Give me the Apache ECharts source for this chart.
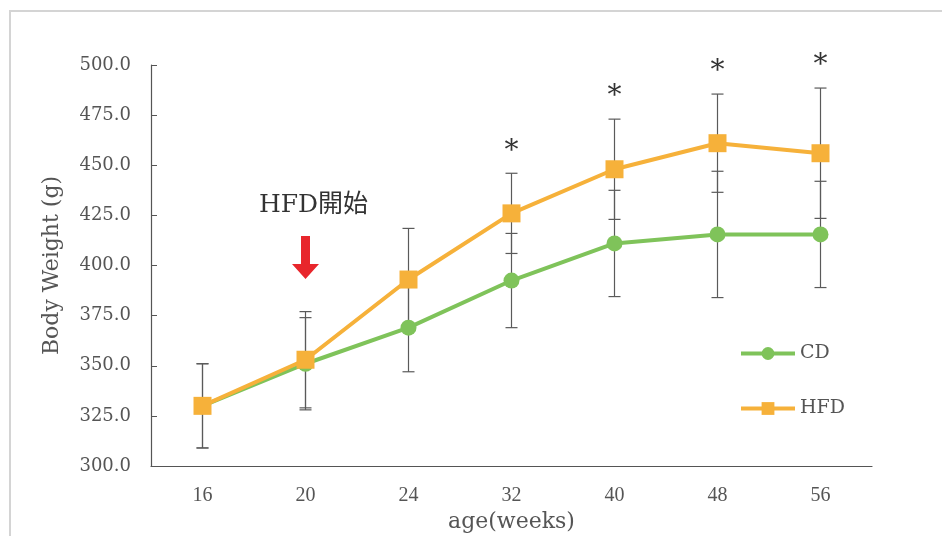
<!DOCTYPE html>
<html>
<head>
<meta charset="utf-8">
<script src="https://cdn.jsdelivr.net/npm/echarts@6/dist/echarts.min.js"></script>
<style>
  html, body { margin: 0; background: #fff; }
  #chart { width: 942px; height: 536px; }
</style>
</head>
<body>
<div id="chart"></div>
<script>
const weeks = ['16', '20', '24', '32', '40', '48', '56']
const cdMean = [330, 351, 369, 392.5, 411, 415.5, 415.5]
const cdSd = [21, 23, 22, 23.5, 26.5, 31.5, 26.5]
const hfdMean = [330, 353, 393, 426, 448, 461, 456]
const hfdSd = [21, 24, 25.5, 20, 25, 24.5, 32.5]
const significant = [false, false, false, true, true, true, true]
const hfdStart = { week: '20', arrowAt: 404, textAt: 430, text: 'HFD開始' }

const serif = "'DejaVu Serif', 'Noto Sans CJK JP', serif"
const narrowSerif = "'Liberation Serif', serif"
const axisGrey = '#555555'
const textGrey = '#555555'
const green = '#7fc35a'
const orange = '#f6b13a'

function errorBars(name, mean, sd) {
  return {
    name: name,
    type: 'custom',
    z: 1,
    silent: true,
    encode: { x: 0, y: [1, 2] },
    data: mean.map((m, i) => [i, m - sd[i], m + sd[i]]),
    renderItem: (params, api) => {
      const lo = api.coord([api.value(0), api.value(1)])
      const hi = api.coord([api.value(0), api.value(2)])
      const style = { stroke: '#5a5a5a', lineWidth: 1.2 }
      const cap = 6
      return {
        type: 'group',
        children: [
          { type: 'line', shape: { x1: lo[0], y1: lo[1], x2: hi[0], y2: hi[1] }, style },
          { type: 'line', shape: { x1: hi[0] - cap, y1: hi[1], x2: hi[0] + cap, y2: hi[1] }, style },
          { type: 'line', shape: { x1: lo[0] - cap, y1: lo[1], x2: lo[0] + cap, y2: lo[1] }, style },
        ],
      }
    },
  }
}

const chart = echarts.init(document.getElementById('chart'))

chart.setOption({
  animation: false,
  graphic: [
    {
      type: 'rect',
      shape: { x: 10, y: 11, width: 960, height: 560 },
      style: { fill: 'none', stroke: '#d4d4d4', lineWidth: 2 },
      silent: true,
    },
  ],
  grid: { left: 151, top: 65, right: 70, bottom: 70, outerBoundsMode: 'none' },
  legend: {
    data: ['CD', 'HFD'],
    orient: 'vertical',
    left: 734,
    top: 339,
    itemWidth: 54,
    itemHeight: 16,
    itemGap: 36,
    lineStyle: { width: 4 },
    textStyle: { fontFamily: serif, fontSize: 19, color: textGrey },
  },
  xAxis: {
    type: 'category',
    data: weeks,
    name: 'age(weeks)',
    nameLocation: 'middle',
    nameGap: 44,
    nameTextStyle: { fontFamily: serif, fontSize: 22, color: textGrey },
    axisLine: { lineStyle: { color: axisGrey, width: 1.2 } },
    axisTick: { alignWithLabel: true, length: 6, lineStyle: { color: axisGrey } },
    axisLabel: { fontFamily: narrowSerif, fontSize: 20, color: textGrey, margin: 20 },
  },
  yAxis: {
    type: 'value',
    min: 300,
    max: 500,
    interval: 25,
    name: 'Body Weight (g)',
    nameLocation: 'middle',
    nameGap: 88,
    nameTextStyle: { fontFamily: serif, fontSize: 22, color: textGrey },
    axisLine: { show: true, lineStyle: { color: axisGrey, width: 1.2 } },
    axisTick: { show: true, inside: true, length: 6, lineStyle: { color: axisGrey } },
    splitLine: { show: false },
    axisLabel: {
      fontFamily: serif,
      fontSize: 18,
      color: textGrey,
      margin: 20,
      formatter: (v) => v.toFixed(1),
    },
  },
  series: [
    errorBars('cd-sd', cdMean, cdSd),
    errorBars('hfd-sd', hfdMean, hfdSd),
    {
      name: 'CD',
      type: 'line',
      data: cdMean,
      z: 3,
      color: green,
      symbol: 'circle',
      symbolSize: 16,
      lineStyle: { width: 4, color: green },
      itemStyle: { color: green },
    },
    {
      name: 'HFD',
      type: 'line',
      data: hfdMean,
      z: 4,
      color: orange,
      symbol: 'rect',
      symbolSize: 18,
      lineStyle: { width: 4, color: orange },
      itemStyle: { color: orange },
      markPoint: {
        silent: true,
        data: [
          {
            coord: [hfdStart.week, hfdStart.arrowAt],
            symbol: 'path://M9,0 L18,0 L18,28 L27,28 L13.5,43 L0,28 L9,28 Z',
            symbolSize: [27, 43],
            itemStyle: { color: '#e8262c' },
            label: { show: false },
          },
          {
            coord: [hfdStart.week, hfdStart.textAt],
            symbol: 'circle',
            symbolSize: 0,
            label: {
              show: true,
              formatter: hfdStart.text,
              offset: [8, 0],
              fontFamily: serif,
              fontSize: 25,
              color: '#333',
            },
          },
        ],
      },
    },
    {
      name: 'sig',
      type: 'custom',
      silent: true,
      z: 5,
      encode: { x: 0, y: 1 },
      data: hfdMean.map((m, i) => [i, m + hfdSd[i]]).filter((d, i) => significant[i]),
      renderItem: (params, api) => {
        const p = api.coord([api.value(0), api.value(1)])
        return {
          type: 'text',
          style: {
            x: p[0],
            y: p[1] - 22,
            text: '*',
            fontFamily: serif,
            fontSize: 28,
            fill: '#333',
            align: 'center',
            verticalAlign: 'middle',
          },
        }
      },
    },
  ],
})
</script>
</body>
</html>
